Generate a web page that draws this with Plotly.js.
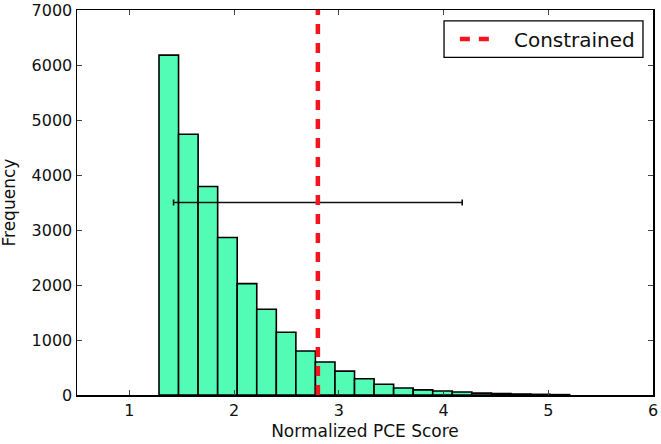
<!DOCTYPE html>
<html>
<head>
<meta charset="utf-8">
<script src="https://cdn.plot.ly/plotly-3.0.1.min.js"></script>
<style>html,body{margin:0;padding:0;background:#fff;}#chart{width:661px;height:444px;}</style>
</head>
<body>
<div id="chart"></div>
<script>
// Histogram data
const binStart = 1.283;
const binWidth = 0.1867;
const counts = [6180, 4740, 3790, 2865, 2025, 1560, 1140, 800, 600, 435, 296, 195, 127, 93, 72, 54, 35, 27, 18, 12, 7];

// Constrained value (vertical dashed line)
const constrainedX = 2.80;
const lineY = [0, 7000];

// Horizontal error bar
const errCenter = [2.80];
const errY = [3500];
const errHalf = [1.378];

// Axis ticks
const xTicks = [1, 2, 3, 4, 5, 6];
const yTicks = [0, 1000, 2000, 3000, 4000, 5000, 6000, 7000];

const centers = counts.map((c, i) => binStart + binWidth * (i + 0.5));

const font = {family: 'DejaVu Sans, sans-serif', size: 16, color: '#111'};
const titleFont = {family: 'DejaVu Sans, sans-serif', size: 17, color: '#111'};

const traces = [
  {
    type: 'bar',
    x: centers,
    y: counts,
    width: counts.map(() => binWidth),
    marker: {color: '#52fcb4', line: {color: '#000', width: 1.6}},
    showlegend: false,
    hoverinfo: 'skip'
  },
  {
    type: 'scatter',
    mode: 'markers',
    x: errCenter,
    y: errY,
    marker: {size: 0.1, color: 'rgba(0,0,0,0)'},
    error_x: {type: 'data', array: errHalf, visible: true, color: '#111', thickness: 1.6, width: 3},
    showlegend: false,
    hoverinfo: 'skip'
  },
  {
    type: 'scatter',
    mode: 'lines',
    x: [constrainedX, constrainedX],
    y: lineY,
    line: {color: '#f5141e', width: 4.5, dash: '10px,9px'},
    name: '\u00a0\u00a0\u00a0Constrained'
  }
];

const axisCommon = {
  showline: true, linecolor: '#000', linewidth: 1.5, mirror: 'ticks',
  ticks: 'inside', ticklen: 5, tickwidth: 1, tickcolor: '#444',
  showgrid: false, zeroline: false, tickfont: font
};

const layout = {
  width: 661, height: 444,
  margin: {l: 77, r: 8, t: 10, b: 49},
  paper_bgcolor: '#fff', plot_bgcolor: '#fff',
  font: font,
  bargap: 0,
  xaxis: Object.assign({}, axisCommon, {
    range: [0.5, 6], tickvals: xTicks, ticktext: xTicks.map(String),
    title: {text: 'Normalized PCE Score', font: titleFont, standoff: 6}
  }),
  yaxis: Object.assign({}, axisCommon, {
    range: [0, 7000], tickvals: yTicks, ticktext: yTicks.map(String)
  }),
  annotations: [{
    text: 'Frequency', textangle: -90, font: titleFont, showarrow: false,
    xref: 'paper', yref: 'paper', x: 0, y: 0.5, xanchor: 'center', yanchor: 'middle',
    xshift: -69
  }],
  shapes: [{
    type: 'rect', xref: 'paper', yref: 'paper', layer: 'above',
    x0: 0.6372, x1: 0.9826, y0: 0.877, y1: 0.972,
    line: {color: '#000', width: 1.3}, fillcolor: '#fff'
  }],
  legend: {
    x: 0.656, y: 0.925, xanchor: 'left', yanchor: 'middle',
    bgcolor: 'rgba(0,0,0,0)', borderwidth: 0,
    font: {family: 'DejaVu Sans, sans-serif', size: 20, color: '#111'}
  },
  showlegend: true
};

Plotly.newPlot('chart', traces, layout, {staticPlot: true, displayModeBar: false});
</script>
</body>
</html>
